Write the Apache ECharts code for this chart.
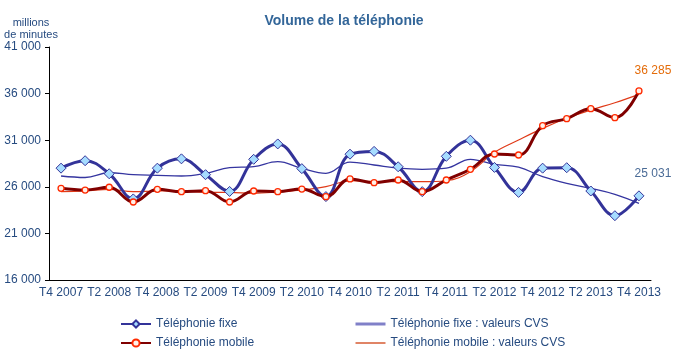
<!DOCTYPE html>
<html>
<head>
<meta charset="utf-8">
<script src="https://cdn.jsdelivr.net/npm/echarts@6/dist/echarts.min.js"></script>
<style>
  html, body { margin: 0; padding: 0; background: #fff; }
  #chart { width: 680px; height: 355px; }
</style>
</head>
<body>
<div id="chart"></div>
<script>
// trimestres, de T4 2007 à T4 2013
const quarters = [
  'T4 2007', 'T1 2008', 'T2 2008', 'T3 2008', 'T4 2008',
  'T1 2009', 'T2 2009', 'T3 2009', 'T4 2009',
  'T1 2010', 'T2 2010', 'T3 2010', 'T4 2010',
  'T1 2011', 'T2 2011', 'T3 2011', 'T4 2011',
  'T1 2012', 'T2 2012', 'T3 2012', 'T4 2012',
  'T1 2013', 'T2 2013', 'T3 2013', 'T4 2013'
]

// volumes bruts (millions de minutes)
const fixe = [
  28000, 28800, 27400, 24700, 28000, 29000, 27300, 25500, 28950,
  30600, 27950, 24950, 29500, 29800, 28150, 25480, 29270, 31000,
  28080, 25400, 28000, 28050, 25550, 22900, 25031
]
const mobile = [
  25840, 25650, 25950, 24370, 25730, 25480, 25580, 24370, 25550,
  25480, 25760, 24940, 26840, 26440, 26730, 25480, 26730, 27880,
  29520, 29410, 32560, 33310, 34380, 33420, 36285
]

// valeurs CVS
const fixeCvs = [
  27160, 27000, 27510, 27300, 27230, 27160, 27450, 28050, 28160,
  28700, 27980, 27450, 28650, 28340, 28000, 27880, 28000, 28950,
  28400, 28100, 27090, 26370, 25840, 25200, 24230
]
const mobileCvs = [
  25480, 25550, 25730, 25480, 25550, 25550, 25410, 25400, 25300,
  25440, 25660, 26010, 26650, 26550, 26550, 26550, 26650, 27620,
  29700, 31020, 32270, 33350, 34240, 35020, 35920
]

const yTicks = { min: 16000, max: 41000, step: 5000 }

const textBlue = '#264b80'

// 36285 -> "36 285"
function fmt(v) {
  return String(Math.round(v)).replace(/\B(?=(\d{3})+(?!\d))/g, ' ')
}

// étiquette sur le dernier point seulement
function withLastLabel(arr, color) {
  return arr.map((v, i) => i === arr.length - 1
    ? {
        value: v,
        label: {
          show: true, position: 'top', offset: [14, -6],
          color: color, fontSize: 12, fontFamily: 'Liberation Sans, Arial',
          formatter: p => fmt(p.value)
        }
      }
    : v)
}

const chart = echarts.init(document.getElementById('chart'), null, { renderer: 'canvas' })

chart.setOption({
  animation: false,
  textStyle: { fontFamily: 'Liberation Sans, Arial, sans-serif' },
  title: {
    text: 'Volume de la téléphonie',
    left: 339, top: 9, textAlign: 'center',
    textStyle: { color: '#336699', fontSize: 14, fontWeight: 'bold' }
  },
  graphic: [{
    type: 'text', x: 31, y: 17,
    style: {
      text: 'millions\nde minutes', fill: textBlue, fontSize: 11,
      lineHeight: 12, align: 'center',
      fontFamily: 'Liberation Sans, Arial'
    }
  }],
  grid: { left: 49, right: 29, top: 47, bottom: 75 },
  xAxis: {
    type: 'category',
    data: quarters,
    boundaryGap: true,
    axisLine: { lineStyle: { color: '#000', width: 1 } },
    axisTick: { interval: 0, length: 5, lineStyle: { color: '#000' } },
    axisLabel: { interval: 1, color: textBlue, fontSize: 12, margin: 7 }
  },
  yAxis: {
    type: 'value',
    min: yTicks.min, max: yTicks.max, interval: yTicks.step,
    axisLine: { show: true, lineStyle: { color: '#000', width: 1 } },
    axisTick: { show: true, length: 4, lineStyle: { color: '#000' } },
    splitLine: { show: false },
    axisLabel: { color: textBlue, fontSize: 12, margin: 8, formatter: fmt }
  },
  legend: [
    {
      left: 120, top: 318, orient: 'vertical', itemGap: 7, padding: 0,
      itemWidth: 30, itemHeight: 9,
      textStyle: { color: textBlue, fontSize: 12 },
      data: ['Téléphonie fixe', 'Téléphonie mobile']
    },
    {
      left: 354, top: 318, orient: 'vertical', itemGap: 7, padding: 0,
      itemWidth: 30, itemHeight: 9,
      textStyle: { color: textBlue, fontSize: 12 },
      data: [
        { name: 'Téléphonie fixe : valeurs CVS', itemStyle: { opacity: 0 },
          lineStyle: { color: '#8080c8', width: 3 } },
        { name: 'Téléphonie mobile : valeurs CVS', itemStyle: { opacity: 0 },
          lineStyle: { color: '#cc3300', width: 1.2 } }
      ]
    }
  ],
  series: [
    {
      name: 'Téléphonie fixe : valeurs CVS',
      type: 'line', smooth: 0.4, symbol: 'none',
      data: fixeCvs,
      lineStyle: { color: '#3535a0', width: 1.3 },
      z: 2
    },
    {
      name: 'Téléphonie mobile : valeurs CVS',
      type: 'line', smooth: 0.4, symbol: 'none',
      data: mobileCvs,
      lineStyle: { color: '#e03a18', width: 1.2 },
      z: 2
    },
    {
      name: 'Téléphonie fixe',
      type: 'line', smooth: 0.4,
      symbol: 'diamond', symbolSize: 10,
      data: withLastLabel(fixe, '#4a6b96'),
      lineStyle: { color: '#333399', width: 3 },
      itemStyle: { color: '#a6dcff', borderColor: '#333399', borderWidth: 1 },
      z: 3
    },
    {
      name: 'Téléphonie mobile',
      type: 'line', smooth: 0.4,
      symbol: 'circle', symbolSize: 6,
      data: withLastLabel(mobile, '#e46c0a'),
      lineStyle: { color: '#800000', width: 3 },
      itemStyle: { color: '#fff0e8', borderColor: '#ff2a00', borderWidth: 1.3 },
      z: 4
    }
  ]
})
</script>
</body>
</html>
